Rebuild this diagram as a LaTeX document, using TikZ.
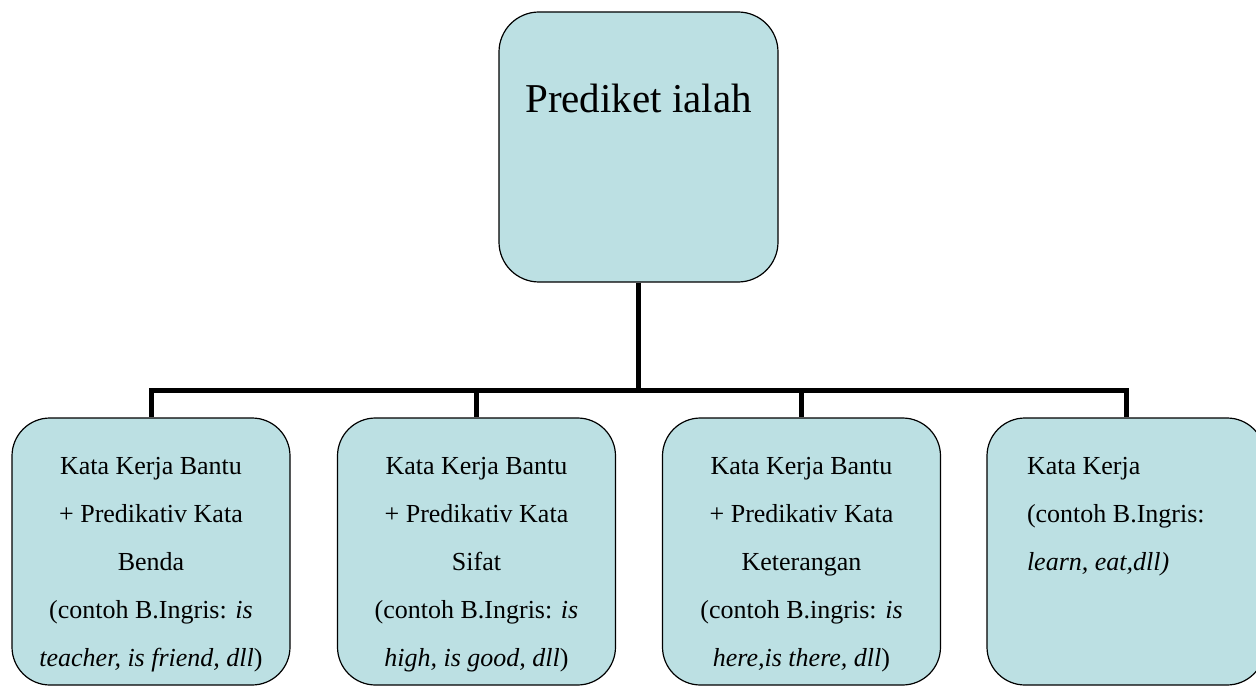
\documentclass[tikz,border=0pt]{standalone}
\usepackage{fontspec}
\setmainfont{Liberation Serif}
\usepackage{xcolor}
\usepackage{tikz}

\definecolor{boxblue}{RGB}{188,224,227}

% text of a box, set from its top edge down
\newcommand{\leafbox}[2][\centering]{\parbox[c][267pt][t]{278pt}{\fontsize{26}{48}\selectfont#1\vspace*{39pt}#2}}
\newcommand{\predbox}[1]{\parbox[c][270pt][t]{279pt}{\fontsize{41}{48}\selectfont\centering\vspace*{72pt}#1}}

\begin{document}
\begin{tikzpicture}[x=1pt,y=-1pt,
                      pred node/.style={draw,fill=boxblue,rounded corners=40pt,line width=1.2pt,inner sep=0pt},
                      leaf node/.style={draw,fill=boxblue,rounded corners=38pt,line width=1.2pt,inner sep=0pt},
                      connector/.style={line width=5pt,line join=miter}]

    \useasboundingbox (0,0) rectangle (1256,687);

    \node[pred node] (pred) at (638.5,147) {\predbox{Prediket ialah}};

    \node[leaf node] (benda) at (151,551.5)
      {\leafbox{Kata Kerja Bantu\\+ Predikativ Kata\\Benda\\(contoh B.Ingris: \textit{is}\\\textit{teacher, is friend, dll})}};
    \node[leaf node] (sifat) at (476.5,551.5)
      {\leafbox{Kata Kerja Bantu\\+ Predikativ Kata\\Sifat\\(contoh B.Ingris: \textit{is}\\\textit{high, is good, dll})}};
    \node[leaf node] (keterangan) at (801.5,551.5)
      {\leafbox{Kata Kerja Bantu\\+ Predikativ Kata\\Keterangan\\(contoh B.ingris: \textit{is}\\\textit{here,is there, dll})}};
    \node[leaf node] (kerja) at (1126,551.5)
      {\leafbox[\raggedright\leftskip=40pt]{Kata Kerja\\(contoh B.Ingris:\\\textit{learn, eat,dll)}}};

    \coordinate (split) at (638.5,390);

    \draw[connector] (pred.south) -- (split);
    \foreach \leaf in {benda,sifat,keterangan,kerja}
      \draw[connector] (split) -| (\leaf.north);

\end{tikzpicture}
\end{document}
